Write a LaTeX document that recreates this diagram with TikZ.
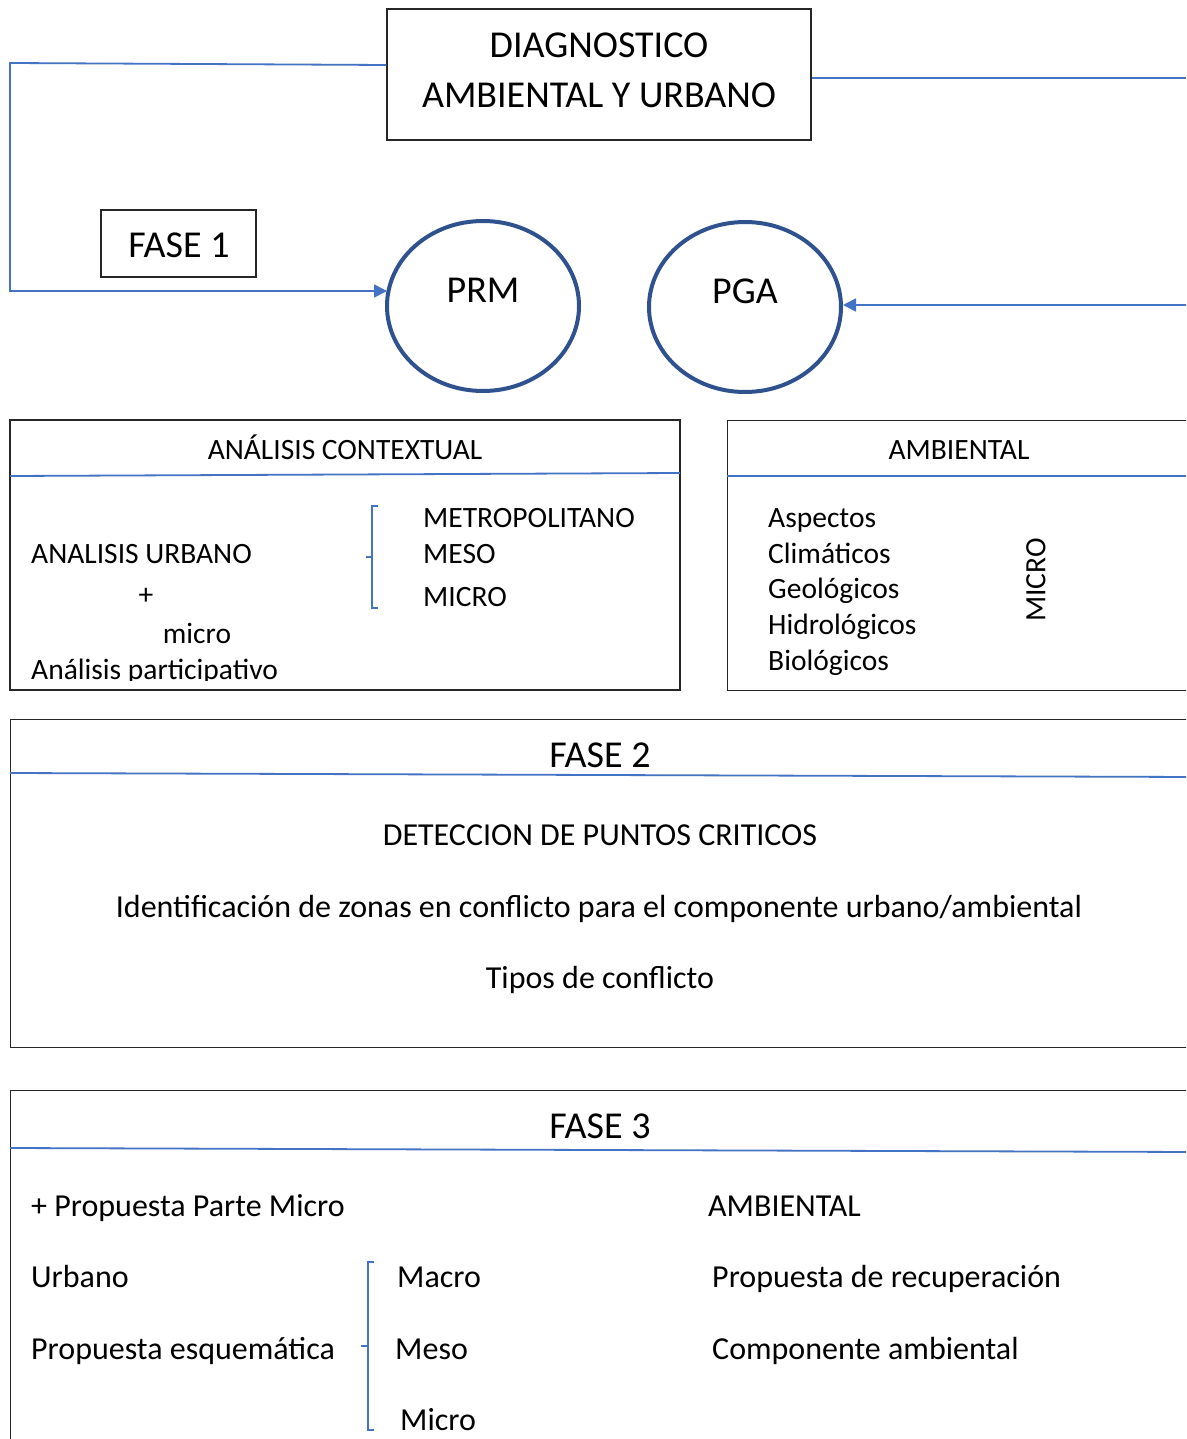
\documentclass[tikz,border=0pt]{standalone}
\usepackage{fontspec}
\setmainfont{Carlito}
\usetikzlibrary{arrows.meta,shapes.geometric}
\definecolor{lnblue}{HTML}{4472C4}
\definecolor{ovblue}{HTML}{2F528F}
\definecolor{bxline}{HTML}{262626}
\begin{document}
\begin{tikzpicture}[x=1pt,y=-1pt,
  box/.style={draw=bxline, line width=1.3pt, inner sep=0, fill=none},
  txt/.style={inner sep=0, anchor=base west, font=\fontsize{29.5}{35}\selectfont},
  ctxt/.style={inner sep=0, anchor=base, font=\fontsize{29.5}{35}\selectfont},
  txtb/.style={inner sep=0, anchor=base west, font=\fontsize{32}{38}\selectfont},
  ctxtb/.style={inner sep=0, anchor=base, font=\fontsize{32}{38}\selectfont},
  big/.style={inner sep=0, font=\fontsize{38}{46}\selectfont},
  blueln/.style={draw=lnblue, line width=1.8pt},
  oval/.style={ellipse, draw=ovblue, line width=4pt, inner sep=0},
  tip/.style={-{Triangle[length=13pt,width=13pt]}}
]
\clip (0,0) rectangle (1186,1439);
\fill[white] (0,0) rectangle (1186,1439);

% top box
\node[box, minimum width=424, minimum height=131] (diag) at (599,74.5) {};
\node[big, align=center] (diagt) at (599,70) {DIAGNOSTICO\\[4pt]AMBIENTAL Y URBANO};

\node[box, minimum width=155, minimum height=67] (f1) at (178.5,243.5) {};
\node[big] (f1t) at (179,245) {FASE 1};

\node[oval, minimum width=192, minimum height=170] (prm) at (483,306) {};
\node[big] (prmt) at (483,290) {PRM};
\node[oval, minimum width=192, minimum height=170] (pga) at (745,307) {};
\node[big] (pgat) at (745,291) {PGA};

\coordinate (l1) at (10,63);
\coordinate (r1) at (1196,78);
\coordinate (prmin) at (387,291);
\coordinate (pgain) at (843,305);
\draw[blueln, tip] (diag.west |- 0,65) -- (l1) |- (prmin);
\draw[blueln, tip] (diag.east |- 0,78) -- (r1) |- (pgain);

% ANALISIS CONTEXTUAL
\node[box, minimum width=670, minimum height=270] (ac) at (345,555) {};
\draw[blueln] (10,476) -- (680,473);
\node[ctxt] (act) at (345,459) {ANÁLISIS CONTEXTUAL};
\node[txt] (au) at (31,563) {ANALISIS URBANO};
\node[ctxt] (plus) at (146,604) {+};
\node[ctxt] (mic) at (197,643) {micro};
\begin{scope}
\clip (10,420) rectangle (680,680);
\node[txt] (ap) at (31,679) {Análisis participativo};
\end{scope}
\draw[draw=lnblue, line width=1.5pt] (378,506) -- (372,506) -- (372,608) -- (378,608);
\draw[draw=lnblue, line width=1.5pt] (372,557) -- (366,557);
\node[txt] (met) at (423,527) {METROPOLITANO};
\node[txt] (mes) at (423,563) {MESO};
\node[txt] (mcr) at (423,606) {MICRO};

% AMBIENTAL
\node[box, minimum width=480, minimum height=270, anchor=north west] (amb) at (727,420) {};
\draw[blueln] (727,476) -- (1196,476);
\node[ctxt] (ambt) at (959,459) {AMBIENTAL};
\node[txt] (a1) at (768,527) {Aspectos};
\node[txt] (a2) at (768,563) {Climáticos};
\node[txt] (a3) at (768,598) {Geológicos};
\node[txt] (a4) at (768,634) {Hidrológicos};
\node[txt] (a5) at (768,670) {Biológicos};
\node[inner sep=0, font=\fontsize{29.5}{35}\selectfont, rotate=90] (amic) at (1036,580) {MICRO};

% FASE 2
\node[box, minimum width=1190, minimum height=328, anchor=north west] (f2) at (10,719) {};
\draw[blueln] (10,773) -- (1196,777);
\node[big] (f2t) at (600,755) {FASE 2};
\node[ctxtb] (dp) at (600,845) {DETECCION DE PUNTOS CRITICOS};
\node[ctxtb] (iz) at (599,917) {Identificación de zonas en conflicto para el componente urbano/ambiental};
\node[ctxtb] (tc) at (600,988) {Tipos de conflicto};

% FASE 3
\node[box, minimum width=1190, minimum height=400, anchor=north west] (f3) at (10,1090) {};
\draw[blueln] (10,1148) -- (1196,1152);
\node[big] (f3t) at (600,1126) {FASE 3};
\node[txtb] (pp) at (31,1216) {+ Propuesta Parte Micro};
\node[txtb] (am3) at (708,1216) {AMBIENTAL};
\node[txtb] (urb) at (31,1287) {Urbano};
\node[txtb] (pe) at (31,1359) {Propuesta esquemática};
\node[txtb] (mac) at (397,1287) {Macro};
\node[txtb] (mes3) at (395,1359) {Meso};
\node[txtb] (mic3) at (400,1430) {Micro};
\node[txtb] (pr) at (712,1287) {Propuesta de recuperación};
\node[txtb] (ca) at (712,1359) {Componente ambiental};
\draw[draw=lnblue, line width=1.5pt] (374,1262) -- (368,1262) -- (368,1430) -- (374,1430);
\draw[draw=lnblue, line width=1.5pt] (368,1346) -- (361,1346);
\end{tikzpicture}
\end{document}
